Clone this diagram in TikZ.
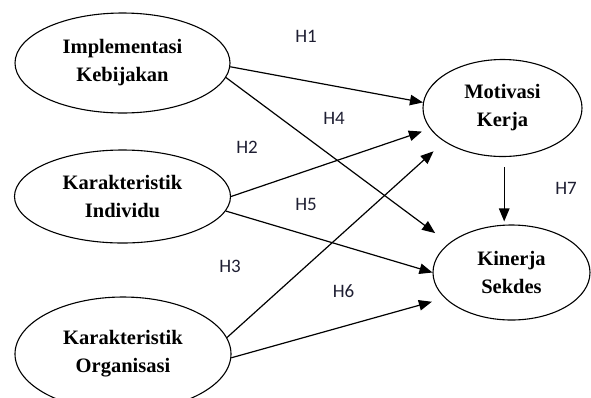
\documentclass[tikz,border=0pt]{standalone}
\usepackage{fontspec}
\setmainfont{Liberation Serif}
\newfontfamily\hypfont{Carlito}
\usetikzlibrary{shapes.geometric,arrows.meta}
\definecolor{hyptext}{RGB}{30,30,50}

\begin{document}
\begin{tikzpicture}[x=1pt,y=-1pt,
		var/.style={ellipse,draw=black,line width=1.1pt,inner sep=0pt,align=center,font=\bfseries\fontsize{20.5}{28}\selectfont},
		hyp/.style={inner sep=0pt,text=hyptext,font=\hypfont\fontsize{19}{22}\selectfont},
		arr/.style={black,line width=1.2pt,-{Triangle[length=13pt,width=10.5pt]}}]
			\useasboundingbox (0,0) rectangle (591,397);
			% variables
			\node[var,minimum width=215pt,minimum height=100pt](imp) at (122.5,63){Implementasi\\Kebijakan};
			\node[var,minimum width=216pt,minimum height=93pt](ind) at (122.5,196.5){Karakteristik\\Individu};
			\node[var,minimum width=216pt,minimum height=114pt](org) at (123,354){Karakteristik\\Organisasi};
			\node[var,minimum width=159pt,minimum height=97pt](mot) at (502.5,108){Motivasi\\Kerja};
			\node[var,minimum width=157pt,minimum height=95pt](kin) at (511.5,272.5){Kinerja\\Sekdes};
			% hypotheses
			\node[hyp](h1) at (306,36){H1};
			\node[hyp](h2) at (247,147.5){H2};
			\node[hyp](h3) at (230,266){H3};
			\node[hyp](h4) at (334,118.5){H4};
			\node[hyp](h5) at (306,204){H5};
			\node[hyp](h6) at (343.5,291.5){H6};
			\node[hyp](h7) at (566,188.5){H7};
			% paths
			\draw[arr](imp.-2)--(mot.176.4);
			\draw[arr,shorten >=17pt](imp.-8.5)--(kin.155.7);
			\draw[arr,shorten >=8.6pt](ind.0)--(mot.196.8);
			\draw[arr](ind.-8.5)--(kin.180);
			\draw[arr,shorten >=14.4pt](org.9)--(mot.210.5);
			\draw[arr,shorten >=13.3pt](org.-2)--(kin.201.2);
			\draw[arr,shorten <=10pt,shorten >=3pt](mot.-88)--(mot.-88|-kin.north);
		\end{tikzpicture}
\end{document}
